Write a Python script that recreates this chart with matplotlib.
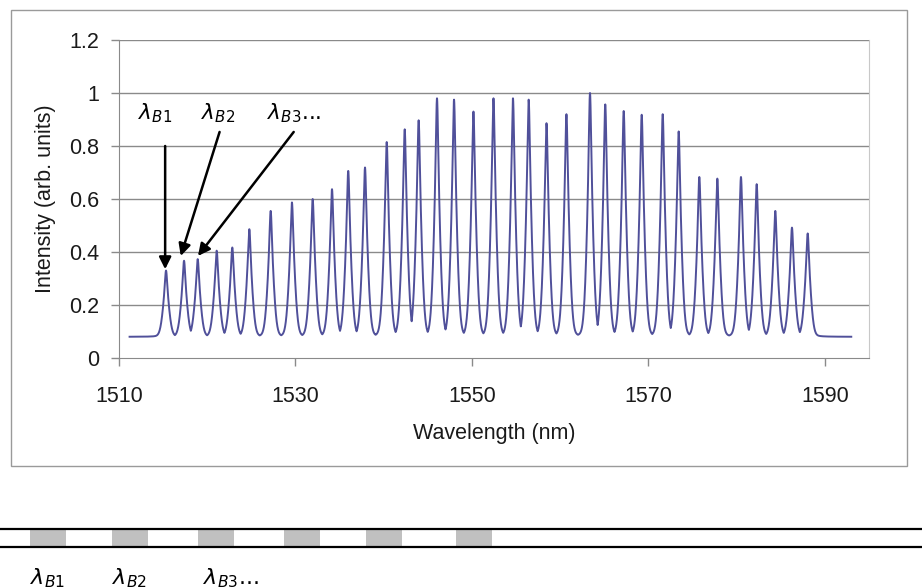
import numpy as np
import matplotlib
matplotlib.use("Agg")
import matplotlib.pyplot as plt
from matplotlib.patches import Rectangle
from matplotlib.lines import Line2D

# ---------------- data ----------------
peak_wavelengths = [1515.33, 1517.37, 1518.92, 1521.07, 1522.84, 1524.77, 1527.19, 1529.60,
                    1531.95, 1534.14, 1535.98, 1537.88, 1540.34, 1542.38, 1543.96, 1546.04,
                    1547.97, 1550.17, 1552.44, 1554.65, 1556.43, 1558.45, 1560.71, 1563.38,
                    1565.11, 1567.20, 1569.24, 1571.62, 1573.43, 1575.77, 1577.81, 1580.49,
                    1582.27, 1584.38, 1586.27, 1588.05]
peak_intensities = [0.330, 0.367, 0.373, 0.405, 0.417, 0.486, 0.555, 0.587,
                    0.600, 0.637, 0.706, 0.719, 0.815, 0.863, 0.897, 0.980,
                    0.975, 0.930, 0.980, 0.980, 0.975, 0.886, 0.920, 1.000,
                    0.957, 0.932, 0.918, 0.920, 0.855, 0.683, 0.677, 0.683,
                    0.656, 0.555, 0.492, 0.470]
baseline_level = 0.08
scan_range = [1511.2, 1593.0]

x_ticks = [1510, 1530, 1550, 1570, 1590]
y_ticks = [0, 0.2, 0.4, 0.6, 0.8, 1, 1.2]
y_ticklabels = ["0", "0.2", "0.4", "0.6", "0.8", "1", "1.2"]
x_label = "Wavelength (nm)"
y_label = "Intensity (arb. units)"
grating_labels = [r"$\lambda_{\mathit{B1}}$", r"$\lambda_{\mathit{B2}}$", r"$\lambda_{\mathit{B3}}$..."]

# ---------------- spectrum from the read peaks ----------------
wl = np.arange(scan_range[0], scan_range[1], 0.01)
spec = np.full_like(wl, baseline_level)
gam = 0.18
for c, h in zip(peak_wavelengths, peak_intensities):
    prof = 0.45 * gam**2 / ((wl - c)**2 + gam**2) + 0.55 * np.exp(-0.5 * ((wl - c) / 0.36)**2)
    spec = np.maximum(spec, baseline_level + (h - baseline_level) * prof)

# ---------------- figure ----------------
W, H = 922, 588
fig = plt.figure(figsize=(W / 100, H / 100), dpi=100)
fig.patch.set_facecolor("white")

def fx(px):
    return px / W

def fy(py):
    return 1 - py / H

L, R, T, B = 119, 869, 40, 358
ax = fig.add_axes([fx(L), fy(B), fx(R) - fx(L), fy(T) - fy(B)])
ax.set_xlim(1510, 1595)
ax.set_ylim(0, 1.2)

ax.plot(wl, spec, color="#50509a", lw=1.4, zorder=3)

ax.set_yticks(y_ticks)
ax.set_yticklabels(y_ticklabels)
ax.set_xticks(x_ticks)
for y in y_ticks[1:]:
    ax.axhline(y, color="#8a8a8a", lw=1.0, zorder=1)

ax.spines["top"].set_visible(False)
ax.spines["left"].set_color("#8a8a8a")
ax.spines["bottom"].set_color("#8a8a8a")
ax.spines["right"].set_color("#c8c8c8")
ax.tick_params(axis="both", direction="out", color="#8a8a8a", length=6, width=1,
               labelsize=15.5, labelcolor="#1a1a1a", pad=8)
ax.tick_params(axis="x", pad=14)
for lab in ax.get_xticklabels() + ax.get_yticklabels():
    lab.set_family("Liberation Sans")

ax.set_xlabel(x_label, fontsize=15.5, family="Liberation Sans", color="#1a1a1a", labelpad=12)
ax.set_ylabel(y_label, fontsize=15.5, family="Liberation Sans", color="#1a1a1a", labelpad=10)

# annotations
arrow_kw = dict(arrowstyle="-|>", color="black", lw=1.8, mutation_scale=18, shrinkA=0, shrinkB=0)
ax.annotate("", xy=(peak_wavelengths[0] - 0.1, 0.335), xytext=(peak_wavelengths[0] - 0.1, 0.80),
            arrowprops=arrow_kw, zorder=5)
ax.annotate("", xy=(1517.0, 0.385), xytext=(1521.4, 0.853), arrowprops=arrow_kw, zorder=5)
ax.annotate("", xy=(1518.95, 0.385), xytext=(1529.8, 0.853), arrowprops=arrow_kw, zorder=5)
ax.text(1514.1, 0.925, grating_labels[0], fontsize=15.5, ha="center", va="center")
ax.text(1521.2, 0.925, grating_labels[1], fontsize=15.5, ha="center", va="center")
ax.text(1526.8, 0.925, grating_labels[2], fontsize=15.5, ha="left", va="center")

# ---------------- overlay: chart frame and fibre diagram ----------------
ov = fig.add_axes([0, 0, 1, 1], zorder=-1)
ov.set_xlim(0, W)
ov.set_ylim(H, 0)
ov.axis("off")
ov.add_patch(Rectangle((11, 10), 896, 456, fill=False, edgecolor="#9a9a9a", lw=1.0))

grating_x = [30, 112, 198, 284, 366, 456]
for gx in grating_x:
    ov.add_patch(Rectangle((gx, 530), 36, 15.5, facecolor="#c0c0c0", edgecolor="none"))
ov.add_line(Line2D([0, W], [528.5, 528.5], color="black", lw=1.6))
ov.add_line(Line2D([0, W], [547.0, 547.0], color="black", lw=1.6))
label_x = [30, 112, 203]
for lx, t in zip(label_x, grating_labels):
    ov.text(lx, 578, t, fontsize=16, ha="left", va="center")

fig.savefig("out.png", dpi=100, facecolor="white")
